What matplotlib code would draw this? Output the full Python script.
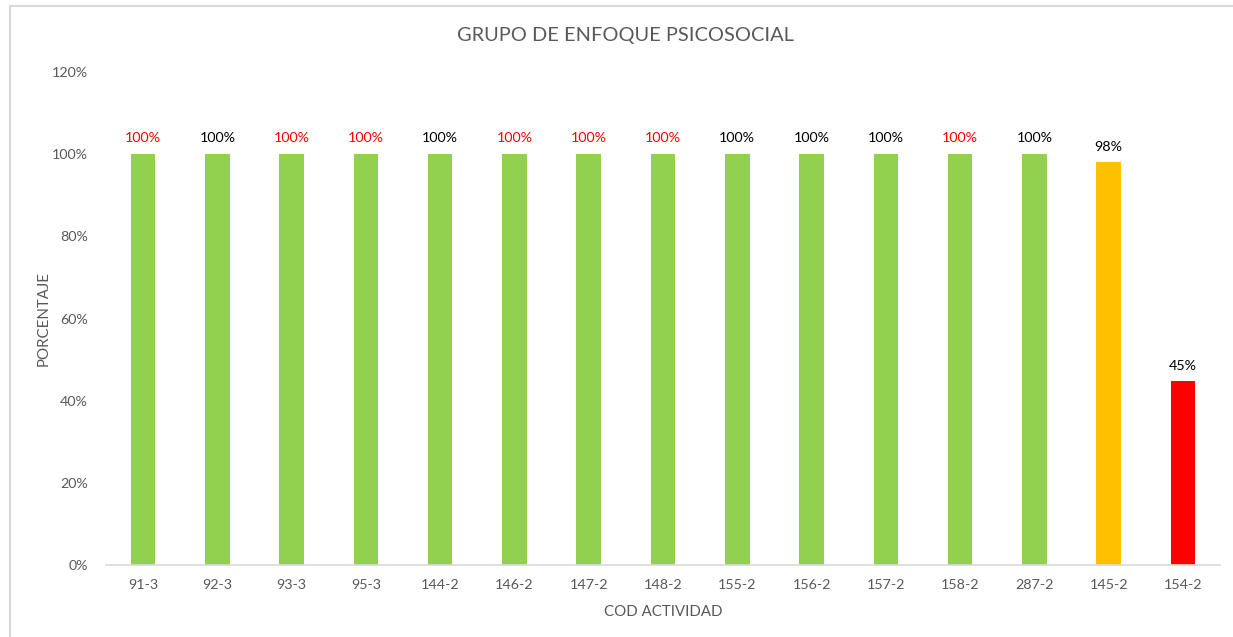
import matplotlib
matplotlib.use("Agg")
import matplotlib.pyplot as plt
from matplotlib.lines import Line2D
from matplotlib.ticker import FuncFormatter

plt.rcParams['font.family'] = ['Lato', 'DejaVu Sans']

categories = ["91-3", "92-3", "93-3", "95-3", "144-2", "146-2", "147-2", "148-2",
              "155-2", "156-2", "157-2", "158-2", "287-2", "145-2", "154-2"]
values = [1.00, 1.00, 1.00, 1.00, 1.00, 1.00, 1.00, 1.00,
          1.00, 1.00, 1.00, 1.00, 1.00, 0.98, 0.447]
bar_colors = ["#92D050"] * 13 + ["#FFC000", "#FF0000"]
label_colors = ["#FF0000", "#000000", "#FF0000", "#FF0000", "#000000", "#FF0000",
                "#FF0000", "#FF0000", "#000000", "#000000", "#000000", "#FF0000",
                "#000000", "#000000", "#000000"]
yticks = [0, 0.2, 0.4, 0.6, 0.8, 1.0, 1.2]

W, H = 1233, 637
fig = plt.figure(figsize=(W / 100, H / 100), dpi=100)
ax = fig.add_axes([106 / W, (H - 565) / H, (1220 - 106) / W, (565 - 72) / H])

x = list(range(len(categories)))
ax.bar(x, values, width=0.33, color=bar_colors, zorder=2)
for xi, v, c in zip(x, values, label_colors):
    ax.annotate(f"{round(v * 100):.0f}%", (xi, v), xytext=(0, 7), textcoords="offset points",
                ha="center", va="bottom", fontsize=10.3, color=c)

ax.set_xlim(-0.5, len(categories) - 0.5)
ax.set_ylim(0, 1.2)
ax.set_yticks(yticks)
ax.yaxis.set_major_formatter(FuncFormatter(lambda v, p: f"{v * 100:.0f}%"))
ax.set_xticks(x)
ax.set_xticklabels(categories)
ax.tick_params(axis="both", length=0, labelsize=10.3, colors="#595959", pad=10)
ax.tick_params(axis="y", pad=13)
for s in ["top", "right", "left"]:
    ax.spines[s].set_visible(False)
ax.spines["bottom"].set_color("#D9D9D9")
ax.spines["bottom"].set_linewidth(1.2)

ax.set_xlabel("COD ACTIVIDAD", fontsize=10.8, color="#595959", labelpad=10)
ax.set_ylabel("PORCENTAJE", fontsize=10.8, color="#595959")
ax.yaxis.set_label_coords((51 - 106) / (1220 - 106), 0.5)
fig.text(625 / W, 1 - 36 / H, "GRUPO DE ENFOQUE PSICOSOCIAL", ha="center", va="center",
         fontsize=14.4, color="#595959")

# outer chart border (top and left visible)
fig.add_artist(Line2D([9.5 / W, 1], [1 - 5.5 / H, 1 - 5.5 / H], transform=fig.transFigure,
                      color="#D9D9D9", lw=1.5))
fig.add_artist(Line2D([9.5 / W, 9.5 / W], [0, 1 - 5.5 / H], transform=fig.transFigure,
                      color="#D9D9D9", lw=1.5))

fig.savefig("out.png", dpi=100, facecolor="white")
